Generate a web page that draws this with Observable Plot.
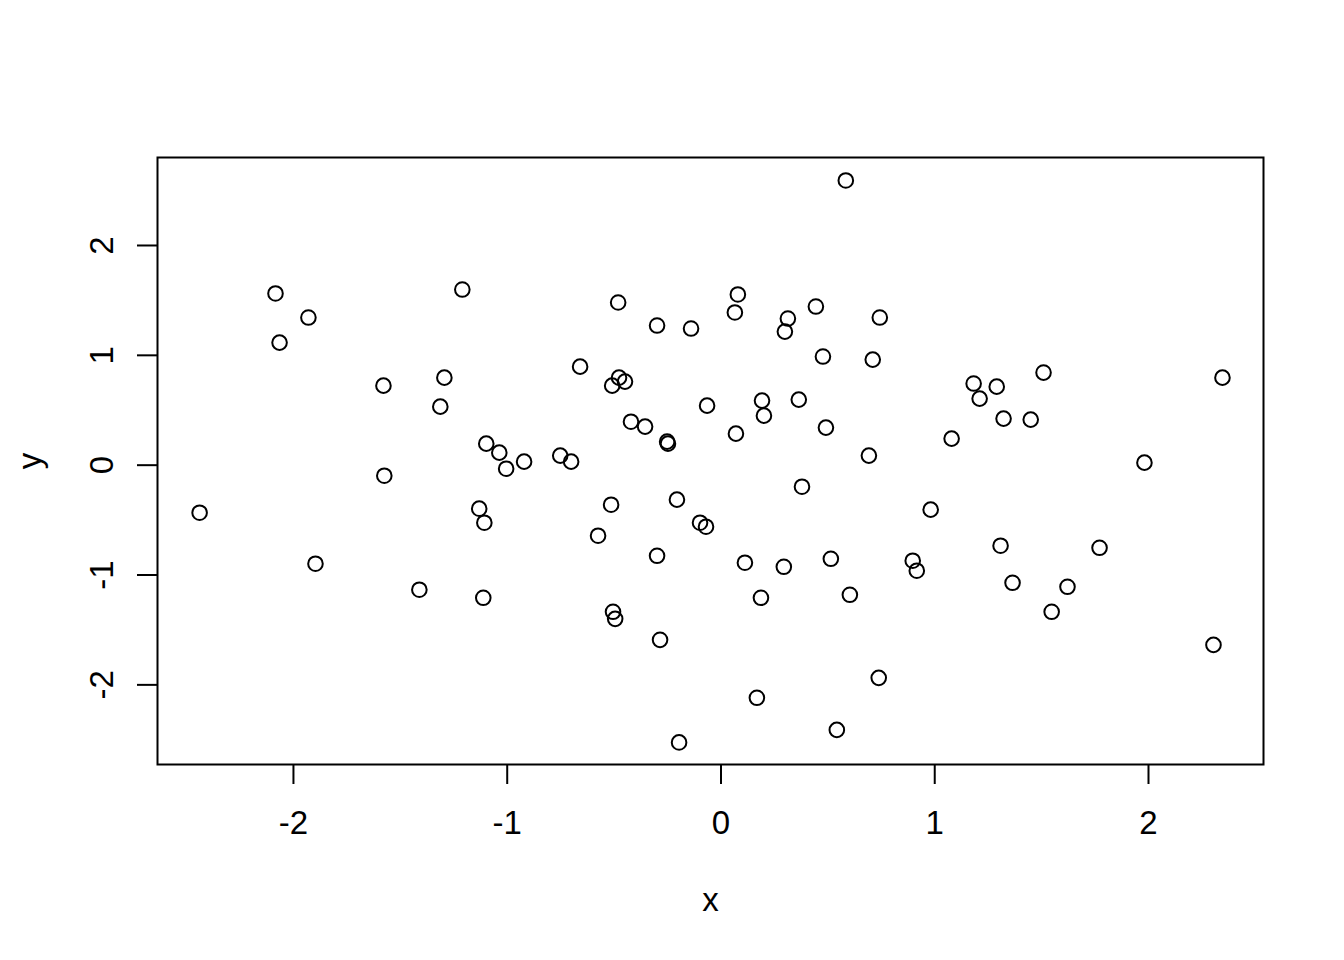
<!DOCTYPE html>
<html>
<head>
<meta charset="utf-8">
<script src="https://cdn.jsdelivr.net/npm/d3@7"></script>
<script src="https://cdn.jsdelivr.net/npm/@observablehq/plot@0.6"></script>
<style>
  html, body { margin: 0; padding: 0; background: #fff; }
  #chart svg { display: block; }
</style>
</head>
<body>
<div id="chart"></div>
<script>
const xs = [-2.439,-2.084,-2.065,-1.930,-1.897,-1.579,-1.575,-1.411,-1.313,-1.294,-1.210,-1.131,-1.107,-1.112,-1.098,-1.037,-1.005,-0.921,-0.752,-0.701,-0.659,-0.575,-0.514,-0.509,-0.505,-0.495,-0.481,-0.477,-0.449,-0.421,-0.355,-0.299,-0.299,-0.285,-0.252,-0.248,-0.206,-0.196,-0.140,-0.098,-0.070,-0.065,0.065,0.070,0.079,0.112,0.168,0.187,0.192,0.201,0.294,0.299,0.313,0.364,0.379,0.444,0.477,0.491,0.514,0.542,0.584,0.603,0.692,0.710,0.738,0.743,0.897,0.916,0.981,1.079,1.182,1.210,1.290,1.308,1.322,1.364,1.449,1.509,1.547,1.621,1.771,1.981,2.304,2.346];
const ys = [-0.433,1.563,1.116,1.344,-0.897,0.724,-0.096,-1.134,0.533,0.797,1.599,-0.396,-0.524,-1.207,0.196,0.114,-0.032,0.032,0.087,0.032,0.897,-0.642,-0.360,0.724,-1.335,-1.399,1.481,0.797,0.761,0.396,0.351,1.271,-0.825,-1.590,0.214,0.196,-0.314,-2.524,1.244,-0.524,-0.560,0.542,1.390,0.287,1.554,-0.888,-2.118,-1.207,0.588,0.451,-0.925,1.216,1.335,0.597,-0.196,1.444,0.989,0.342,-0.852,-2.410,2.592,-1.180,0.087,0.961,-1.936,1.344,-0.870,-0.961,-0.405,0.242,0.743,0.606,0.715,-0.733,0.424,-1.071,0.415,0.843,-1.335,-1.107,-0.752,0.023,-1.636,0.797];
const xTicks = [-2, -1, 0, 1, 2];
const yTicks = [-2, -1, 0, 1, 2];

const points = xs.map((x, i) => ({x, y: ys[i]}));
const fmt = d => String(d);

const chart = Plot.plot({
  width: 1344,
  height: 960,
  marginLeft: 157,
  marginRight: 81,
  marginTop: 157,
  marginBottom: 196,
  style: {fontFamily: "'Liberation Sans', Arial, Helvetica, sans-serif", fontSize: "33px", color: "black", background: "white"},
  x: {domain: [-2.636, 2.538]},
  y: {domain: [-2.725, 2.801]},
  marks: [
    Plot.frame({stroke: "black", strokeWidth: 2}),
    Plot.axisX({ticks: xTicks, tickFormat: fmt, tickSize: 20, tickPadding: 26, strokeWidth: 2, fontSize: 33,
      label: "x", labelAnchor: "center", labelArrow: "none", labelOffset: 146}),
    Plot.axisY({ticks: yTicks, tickFormat: fmt, tickSize: 20, tickPadding: 25, tickRotate: -90, strokeWidth: 2, fontSize: 33,
      label: "y", labelAnchor: "center", labelArrow: "none", labelOffset: 140}),
    Plot.dot(points, {x: "x", y: "y", r: 7.3, stroke: "black", strokeWidth: 2, fill: "none"})
  ]
});
document.getElementById("chart").appendChild(chart);
</script>
</body>
</html>
